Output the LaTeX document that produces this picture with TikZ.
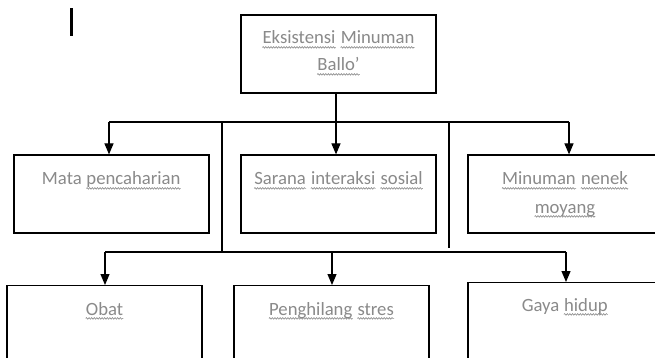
\documentclass[tikz,border=0pt]{standalone}
\usepackage{fontspec}
\setmainfont{Carlito}
\usetikzlibrary{arrows.meta,decorations.pathmorphing}
\definecolor{txt}{HTML}{8A8A8A}
\definecolor{sqc}{HTML}{8A8A8A}
\newcommand\sq[1]{\tikz[baseline=0pt]{\node[inner sep=0pt,anchor=base,text=txt] (sqw) at (0pt,0pt) {#1};\draw[sqc, line width=0.6pt, decorate, decoration={snake, amplitude=0.8pt, segment length=2.6pt}] ([yshift=-3.4pt]sqw.base west) -- ([yshift=-3.4pt]sqw.base east);}}
\tikzset{
  box/.style={draw=black, line width=1.2pt, fill=white},
  lbl/.style={anchor=base, inner sep=0pt, text=txt, font=\fontsize{18.7}{27}\selectfont},
  wire/.style={draw=black, line width=1.2pt},
  arr/.style={wire, -{Triangle[width=9pt,length=11pt]}}
}
\begin{document}
\begin{tikzpicture}[x=1pt,y=-1pt]
\useasboundingbox (0,0) rectangle (655,358);
\clip (0,0) rectangle (655,358);
% cursor bar
\fill[black] (70,8) rectangle (73,36);
% boxes
\node[box, minimum width=195pt, minimum height=78pt, inner sep=0pt] (top) at (338.5,54) {};
\node[box, minimum width=195pt, minimum height=78pt, inner sep=0pt] (mata) at (111.5,194) {};
\node[box, minimum width=195pt, minimum height=78pt, inner sep=0pt] (sarana) at (338.5,194) {};
\node[box, minimum width=194pt, minimum height=78pt, inner sep=0pt] (minum) at (565,194) {};
\node[box, minimum width=195pt, minimum height=90pt, inner sep=0pt, anchor=north] (obat) at (104.5,285) {};
\node[box, minimum width=195pt, minimum height=90pt, inner sep=0pt, anchor=north] (peng) at (331.5,285) {};
\node[box, minimum width=194pt, minimum height=90pt, inner sep=0pt, anchor=north] (gaya) at (565,282) {};
% bus coordinates
\coordinate (b1l) at (109,122);
\coordinate (b1m) at (336,122);
\coordinate (b1r) at (569,122);
\coordinate (v1t) at (222,122);
\coordinate (v1b) at (222,252);
\coordinate (v2t) at (449,122);
\coordinate (v2b) at (449,248);
\coordinate (b2l) at (105,252);
\coordinate (b2m) at (332,252);
\coordinate (b2r) at (566,252);
% connectors
\draw[wire] (b1m |- top.south) -- (b1m);
\draw[wire] (b1l) -- (b1r);
\draw[arr] (b1l) -- (b1l |- mata.north);
\draw[arr] (b1m) -- (b1m |- sarana.north);
\draw[arr] (b1r) -- (b1r |- minum.north);
\draw[wire] (v1t) -- (v1b);
\draw[wire] (v2t) -- (v2b);
\draw[wire] (b2l) -- (b2r);
\draw[arr] (b2l) -- (b2l |- obat.north);
\draw[arr] (b2m) -- (b2m |- peng.north);
\draw[arr] (b2r) -- (b2r |- gaya.north);
% texts
\node[lbl] (t1a) at (338.5,44) {\sq{Eksistensi} \sq{Minuman}};
\node[lbl] (t1b) at (338.5,71) {\sq{Ballo’}};
\node[lbl] (t2) at (111.5,185) {Mata \sq{pencaharian}};
\node[lbl] (t3) at (338.5,185) {\sq{Sarana} \sq{interaksi} \sq{sosial}};
\node[lbl] (t4a) at (565,185) {\sq{Minuman} \sq{nenek}};
\node[lbl] (t4b) at (565,213) {\sq{moyang}};
\node[lbl] (t5) at (104.5,315) {\sq{Obat}};
\node[lbl] (t6) at (331.5,315) {\sq{Penghilang} \sq{stres}};
\node[lbl] (t7) at (565,311) {Gaya \sq{hidup}};
\end{tikzpicture}
\end{document}
